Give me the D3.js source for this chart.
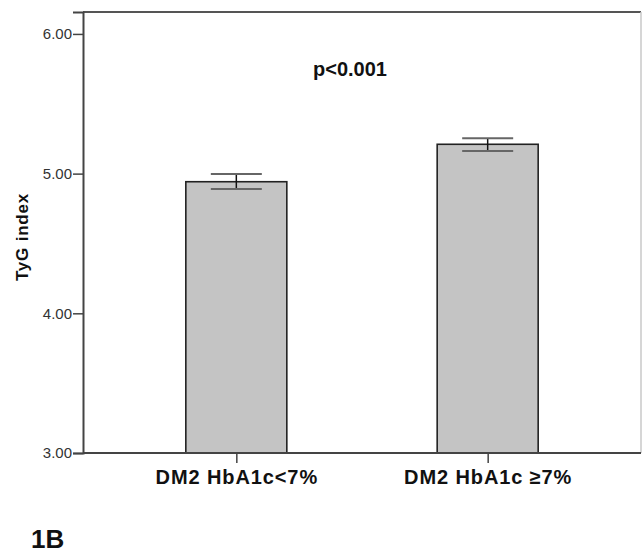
<!DOCTYPE html>
<html>
<head>
<meta charset="utf-8">
<script src="https://cdn.jsdelivr.net/npm/d3@7"></script>
<style>
  body { margin: 0; background: #fff; }
  svg { display: block; font-family: "Liberation Sans", Arial, sans-serif; }
</style>
</head>
<body>
<div id="chart"></div>
<script>
// data
var groups = ["DM2 HbA1c<7%", "DM2 HbA1c \u22657%"];
var means = [4.942, 5.210];
var errLow = [4.890, 5.162];
var errHigh = [4.998, 5.253];
var yTicks = [3, 4, 5, 6];

var W = 642, H = 556;
var plotL = 83, plotR = 641, plotT = 12, plotB = 453;

var svg = d3.select("#chart").append("svg")
    .attr("width", W)
    .attr("height", H);

var x = d3.scalePoint()
    .domain(groups)
    .range([plotL, plotR])
    .padding(0.61);

var y = d3.scaleLinear()
    .domain([3, 6.157])
    .range([plotB, plotT]);

var barW = 101, capW = 51;

// frame (top + right)
svg.append("line")
    .attr("x1", plotL).attr("x2", plotR)
    .attr("y1", plotT).attr("y2", plotT)
    .attr("stroke", "#555").attr("stroke-width", 2);
svg.append("line")
    .attr("x1", plotR).attr("x2", plotR)
    .attr("y1", plotT).attr("y2", plotB)
    .attr("stroke", "#c8c8c8").attr("stroke-width", 1.5);

// bars
var data = groups.map(function(g, i) {
    return {g: g, m: means[i], lo: errLow[i], hi: errHigh[i]};
});

svg.selectAll(".bar")
    .data(data)
    .enter().append("rect")
    .attr("class", "bar")
    .attr("x", function(d) { return x(d.g) - barW / 2; })
    .attr("y", function(d) { return y(d.m); })
    .attr("width", barW)
    .attr("height", function(d) { return y(3) - y(d.m); })
    .attr("fill", "#c4c4c4")
    .attr("stroke", "#222")
    .attr("stroke-width", 1.6);

// error bars
var eb = svg.selectAll(".err").data(data).enter().append("g").attr("class", "err");
eb.append("line")
    .attr("x1", function(d) { return x(d.g); })
    .attr("x2", function(d) { return x(d.g); })
    .attr("y1", function(d) { return y(d.lo); })
    .attr("y2", function(d) { return y(d.hi); })
    .attr("stroke", "#111").attr("stroke-width", 1.5);
["lo", "hi"].forEach(function(k) {
    eb.append("line")
        .attr("x1", function(d) { return x(d.g) - capW / 2; })
        .attr("x2", function(d) { return x(d.g) + capW / 2; })
        .attr("y1", function(d) { return y(d[k]); })
        .attr("y2", function(d) { return y(d[k]); })
        .attr("stroke", "#666").attr("stroke-width", 2);
});

// y axis
var gy = svg.append("g")
    .attr("transform", "translate(" + plotL + ",0)")
    .call(d3.axisLeft(y).tickValues(yTicks).tickFormat(d3.format(".2f")).tickSize(10).tickPadding(1));
gy.select(".domain").attr("stroke", "#444").attr("stroke-width", 2);
gy.selectAll(".tick line").attr("stroke", "#444").attr("stroke-width", 1.5);
gy.selectAll(".tick text")
    .attr("fill", "#333")
    .style("font-size", "15px");

// x axis
var gx = svg.append("g")
    .attr("transform", "translate(0," + plotB + ")")
    .call(d3.axisBottom(x).tickSize(10).tickPadding(7));
gx.select(".domain").attr("d", "M" + plotL + ",0H" + plotR).attr("stroke", "#444").attr("stroke-width", 2);
gx.selectAll(".tick line").attr("stroke", "#444").attr("stroke-width", 1.5);
gx.selectAll(".tick text")
    .attr("fill", "#111")
    .style("font-size", "20px")
    .style("font-weight", "bold")
    .style("letter-spacing", "0.9px");

// y label
svg.append("text")
    .attr("transform", "translate(28,237) rotate(-90)")
    .attr("text-anchor", "middle")
    .style("font-size", "17px")
    .style("font-weight", "bold")
    .style("letter-spacing", "0.8px")
    .attr("fill", "#111")
    .text("TyG index");

// p value
svg.append("text")
    .attr("x", 350).attr("y", 76)
    .attr("text-anchor", "middle")
    .style("font-size", "20px")
    .style("font-weight", "bold")
    .attr("fill", "#111")
    .text("p<0.001");

// panel tag
svg.append("text")
    .attr("x", 31).attr("y", 548)
    .style("font-size", "26px")
    .style("font-weight", "bold")
    .attr("fill", "#111")
    .text("1B");
</script>
</body>
</html>
